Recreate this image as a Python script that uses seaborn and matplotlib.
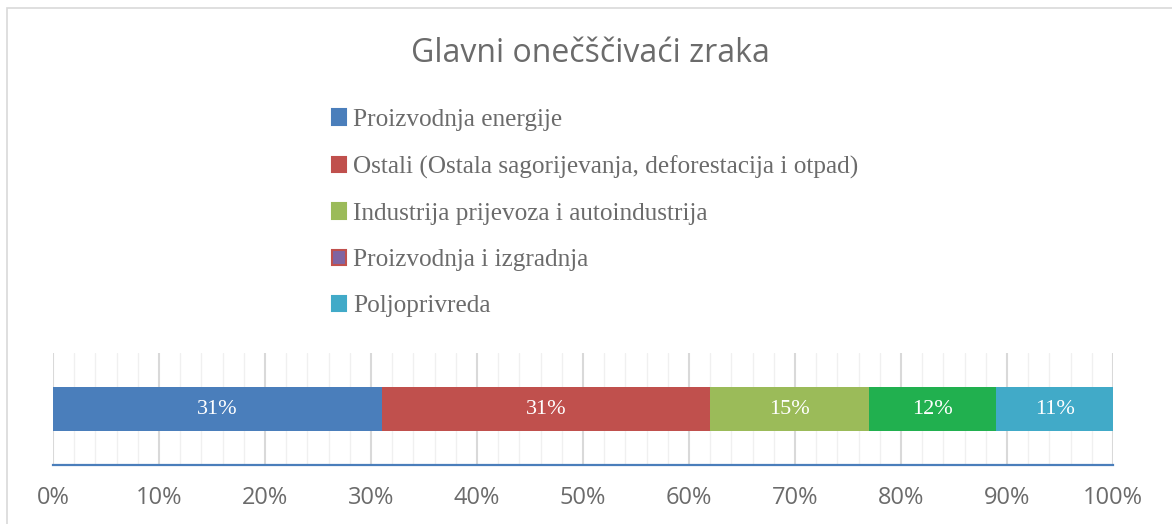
import matplotlib
matplotlib.use("Agg")
import matplotlib.pyplot as plt
import seaborn as sns
import pandas as pd
import numpy as np
from matplotlib.patches import Patch, Rectangle

categories = ["Proizvodnja energije",
              "Ostali (Ostala sagorijevanja, deforestacija i otpad)",
              "Industrija prijevoza i autoindustrija",
              "Proizvodnja i izgradnja",
              "Poljoprivreda"]
values = [31, 31, 15, 12, 11]
bar_colors = ["#4A7EBB", "#C0504D", "#9BBB59", "#21B04F", "#41AAC8"]
legend_faces = ["#4A7EBB", "#C0504D", "#9BBB59", "#8064A2", "#41AAC8"]
legend_edges = ["#4A7EBB", "#C0504D", "#9BBB59", "#C0504D", "#41AAC8"]
ticks = [0, 10, 20, 30, 40, 50, 60, 70, 80, 90, 100]
tick_labels = [f"{t}%" for t in ticks]
title = "Glavni onečščivaći zraka"

sns.set_theme(style="white")
plt.rcParams['font.family'] = ['DejaVu Sans']

TXT = "#6B6B6B"

fig = plt.figure(figsize=(11.72, 5.24), dpi=100)
ax = fig.add_axes([53/1172, 1 - 465/524, (1113 - 53)/1172, (465 - 353)/524])

cum = np.cumsum(values)
starts = cum - np.array(values)
df = pd.DataFrame({"cat": categories, "val": values, "cum": cum, "start": starts, "row": ["a"] * len(values)})

# stacked via overlapping cumulative bars (largest first)
for i in range(len(values) - 1, -1, -1):
    sns.barplot(data=df.iloc[[i]], x="cum", y="row", color=bar_colors[i], width=0.4,
                saturation=1, orient="h", ax=ax, linewidth=0, zorder=3)

ax.set_xlim(0, 100)
ax.set_ylim(0.5, -0.5)
ax.set_xlabel("")
ax.set_ylabel("")
ax.set_yticks([])

# gridlines
for m in range(0, 101, 2):
    if m % 10 == 0:
        ax.axvline(m, color="#D9D9D9", lw=1.5, zorder=1)
    else:
        ax.axvline(m, color="#F0F0F0", lw=1.0, zorder=0.5)

ax.set_xticks(ticks)
ax.set_xticklabels(tick_labels)
ax.tick_params(axis="x", length=0, pad=15, labelsize=17, labelcolor=TXT)
for lab in ax.get_xticklabels():
    lab.set_family(["Open Sans", "DejaVu Sans"])

for s in ["top", "left", "right"]:
    ax.spines[s].set_visible(False)
ax.spines["bottom"].set_color("#4A7EBB")
ax.spines["bottom"].set_linewidth(1.6)
ax.spines["bottom"].set_zorder(4)

for i, v in enumerate(values):
    ax.text(starts[i] + v / 2, 0, f"{v}%", ha="center", va="center", color="white",
            fontsize=16, family=["Liberation Serif"], zorder=5)

fig.text(590/1172, 1 - 53/524, title, ha="center", va="center", fontsize=23,
         color=TXT, family=["Open Sans", "DejaVu Sans"])

handles = [Patch(facecolor=legend_faces[i], edgecolor=legend_edges[i], linewidth=1.5)
           for i in range(len(categories))]
leg = fig.legend(handles, categories, loc="upper left", bbox_to_anchor=(332/1172, 1 - 109/524),
                 frameon=False, prop={"family": "Liberation Serif", "size": 18.2},
                 handlelength=0.56, handleheight=0.56, handletextpad=0.28, labelspacing=0.96,
                 borderaxespad=0, borderpad=0)
for t in leg.get_texts():
    t.set_color(TXT)

fig.patches.append(Rectangle((7/1172, -0.1), 1.2, 1 - 8/524 + 0.1, transform=fig.transFigure,
                             fill=False, edgecolor="#D9D9D9", lw=1.2))

fig.savefig("out.png", dpi=100, facecolor="white")
